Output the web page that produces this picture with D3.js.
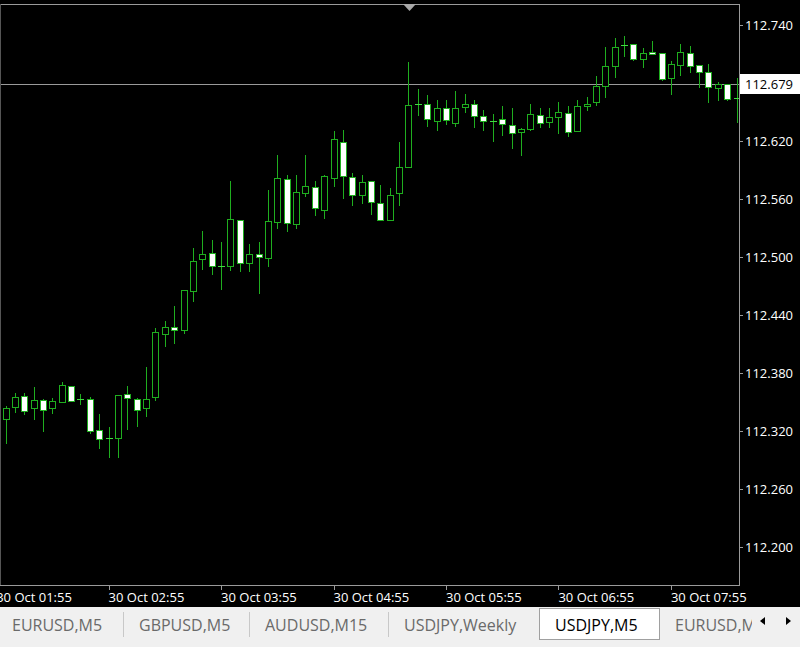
<!DOCTYPE html>
<html>
<head>
<meta charset="utf-8">
<script src="https://cdn.jsdelivr.net/npm/d3@7/dist/d3.min.js"></script>
<style>
  body { margin: 0; background: #000; }
  svg { display: block; }
</style>
</head>
<body>
<svg id="chart"></svg>
<script>
'use strict';

// USDJPY, M5 -- first visible bar is 30 Oct 02:00
var startTime = new Date(2017, 9, 30, 2, 0);
var barMinutes = 5;

var opens = [
  112.333, 112.345, 112.356, 112.344, 112.352, 112.344, 112.350, 112.367, 112.353, 112.353,
  112.321, 112.313, 112.313, 112.358, 112.353, 112.344, 112.355, 112.421, 112.428, 112.425,
  112.465, 112.498, 112.504, 112.491, 112.490, 112.538, 112.494, 112.503, 112.499, 112.536,
  112.581, 112.534, 112.566, 112.572, 112.549, 112.582, 112.619, 112.583, 112.565, 112.579,
  112.556, 112.538, 112.566, 112.593, 112.658, 112.658, 112.641, 112.654, 112.639, 112.655,
  112.658, 112.646, 112.641, 112.643, 112.637, 112.629, 112.633, 112.647, 112.640, 112.645,
  112.649, 112.630, 112.656, 112.660, 112.677, 112.697, 112.719, 112.720, 112.705, 112.712,
  112.711, 112.686, 112.699, 112.711, 112.699, 112.691, 112.675, 112.679, 112.664
];
var highs = [
  112.346, 112.359, 112.359, 112.366, 112.353, 112.354, 112.371, 112.367, 112.358, 112.355,
  112.338, 112.324, 112.357, 112.367, 112.354, 112.386, 112.427, 112.434, 112.449, 112.466,
  112.509, 112.527, 112.518, 112.515, 112.579, 112.538, 112.513, 112.515, 112.569, 112.605,
  112.585, 112.585, 112.605, 112.579, 112.585, 112.630, 112.631, 112.587, 112.585, 112.579,
  112.574, 112.571, 112.619, 112.702, 112.674, 112.668, 112.662, 112.662, 112.672, 112.669,
  112.662, 112.652, 112.648, 112.656, 112.654, 112.633, 112.658, 112.654, 112.654, 112.660,
  112.656, 112.662, 112.666, 112.687, 112.717, 112.727, 112.729, 112.720, 112.716, 112.723,
  112.711, 112.703, 112.720, 112.718, 112.699, 112.700, 112.681, 112.679, 112.685
];
var lows = [
  112.308, 112.340, 112.338, 112.332, 112.320, 112.339, 112.350, 112.352, 112.348, 112.318,
  112.302, 112.293, 112.293, 112.322, 112.325, 112.336, 112.352, 112.408, 112.411, 112.421,
  112.455, 112.488, 112.482, 112.467, 112.487, 112.486, 112.486, 112.463, 112.491, 112.530,
  112.527, 112.530, 112.563, 112.543, 112.540, 112.573, 112.561, 112.554, 112.556, 112.544,
  112.538, 112.538, 112.554, 112.593, 112.647, 112.636, 112.631, 112.638, 112.635, 112.650,
  112.634, 112.631, 112.620, 112.626, 112.613, 112.606, 112.631, 112.634, 112.634, 112.628,
  112.625, 112.630, 112.652, 112.657, 112.666, 112.686, 112.708, 112.704, 112.697, 112.710,
  112.683, 112.669, 112.688, 112.691, 112.676, 112.660, 112.662, 112.662, 112.640
];
var closes = [
  112.344, 112.355, 112.341, 112.352, 112.342, 112.351, 112.368, 112.352, 112.353, 112.320,
  112.312, 112.313, 112.357, 112.354, 112.342, 112.353, 112.422, 112.428, 112.425, 112.466,
  112.496, 112.503, 112.491, 112.491, 112.539, 112.494, 112.503, 112.500, 112.537, 112.582,
  112.535, 112.567, 112.573, 112.550, 112.584, 112.622, 112.584, 112.564, 112.578, 112.557,
  112.538, 112.564, 112.593, 112.657, 112.658, 112.643, 112.654, 112.642, 112.654, 112.658,
  112.646, 112.641, 112.641, 112.638, 112.629, 112.632, 112.648, 112.639, 112.645, 112.650,
  112.629, 112.656, 112.658, 112.677, 112.698, 112.717, 112.719, 112.704, 112.711, 112.710,
  112.684, 112.700, 112.712, 112.698, 112.692, 112.676, 112.679, 112.664, 112.664
];

var priceTicks = [112.200, 112.260, 112.320, 112.380, 112.440, 112.500, 112.560, 112.620, 112.680, 112.740];
var timeTickLabels = ['30 Oct 01:55', '30 Oct 02:55', '30 Oct 03:55', '30 Oct 04:55',
  '30 Oct 05:55', '30 Oct 06:55', '30 Oct 07:55'];
var bidPrice = 112.679;
var tabLabels = ['EURUSD,M5', 'GBPUSD,M5', 'AUDUSD,M15', 'USDJPY,Weekly', 'USDJPY,M5', 'EURUSD,M5'];
var activeTab = 'USDJPY,M5';

var W = 800, H = 647,
  plot = { left: 0, right: 739, top: 4, bottom: 585 },
  green = '#1fae1f',
  axisGray = '#9a9a9a',
  font = '"Open Sans", "Noto Sans", sans-serif';

var svg = d3.select('#chart')
  .attr('width', W)
  .attr('height', H)
  .style('background', '#000');

var bars = opens.map(function (o, i) {
  return {
    t: d3.timeMinute.offset(startTime, i * barMinutes),
    o: o, h: highs[i], l: lows[i], c: closes[i]
  };
});

// scales
var x = d3.scaleTime()
  .domain([bars[0].t, bars[bars.length - 1].t])
  .range([5.5, 736.5]);
var y = d3.scaleLinear()
  .domain([112.200, 112.740])
  .range([547, 25]);

var px = function (v) { return Math.round(v) + 0.5; };

// chart area
var chart = svg.append('g');
chart.append('defs').append('clipPath').attr('id', 'plotClip')
  .append('rect')
  .attr('x', plot.left).attr('y', plot.top)
  .attr('width', plot.right - plot.left).attr('height', plot.bottom - plot.top);

// bid line
chart.append('line')
  .attr('x1', plot.left).attr('x2', plot.right)
  .attr('y1', px(y(bidPrice))).attr('y2', px(y(bidPrice)))
  .attr('stroke', axisGray).attr('stroke-width', 1);

var candles = chart.append('g')
  .attr('clip-path', 'url(#plotClip)')
  .attr('shape-rendering', 'crispEdges');

// wicks
candles.selectAll('.wick')
  .data(bars)
  .enter().append('line')
  .attr('class', 'wick')
  .attr('x1', function (d) { return px(x(d.t)); })
  .attr('x2', function (d) { return px(x(d.t)); })
  .attr('y1', function (d) { return Math.round(y(d.h)); })
  .attr('y2', function (d) { return Math.round(y(d.l)) + 1; })
  .attr('stroke', green);

// bodies (bull = black with green frame, bear = white)
candles.selectAll('.body')
  .data(bars.filter(function (d) { return Math.abs(d.o - d.c) >= 0.0008; }))
  .enter().append('rect')
  .attr('class', 'body')
  .attr('x', function (d) { return Math.round(x(d.t)) - 3 + 0.5; })
  .attr('width', 6)
  .attr('y', function (d) { return px(y(Math.max(d.o, d.c))); })
  .attr('height', function (d) { return Math.max(1, Math.round(y(Math.min(d.o, d.c)) - y(Math.max(d.o, d.c)))); })
  .attr('fill', function (d) { return d.c > d.o ? '#000' : '#fff'; })
  .attr('stroke', green);

// doji
candles.selectAll('.doji')
  .data(bars.filter(function (d) { return Math.abs(d.o - d.c) < 0.0008; }))
  .enter().append('line')
  .attr('class', 'doji')
  .attr('x1', function (d) { return Math.round(x(d.t)) - 3; })
  .attr('x2', function (d) { return Math.round(x(d.t)) + 4; })
  .attr('y1', function (d) { return px(y((d.o + d.c) / 2)); })
  .attr('y2', function (d) { return px(y((d.o + d.c) / 2)); })
  .attr('stroke', '#3fdc3f');

// frame
chart.append('path')
  .attr('d', 'M0,' + (plot.top + 0.5) + 'H' + (plot.right + 0.5) + 'V' + (plot.bottom + 0.5) + 'H0')
  .attr('fill', 'none')
  .attr('stroke', axisGray)
  .attr('shape-rendering', 'crispEdges');
chart.append('line')
  .attr('x1', 0.5).attr('x2', 0.5).attr('y1', plot.top).attr('y2', plot.bottom)
  .attr('stroke', '#555');

// chart shift marker
chart.append('path')
  .attr('d', 'M403,4L416,4L409.5,11Z')
  .attr('fill', '#a8a8a8');

// price axis
var yAxis = svg.append('g');
priceTicks.forEach(function (p) {
  yAxis.append('line')
    .attr('x1', plot.right).attr('x2', plot.right + 4)
    .attr('y1', px(y(p))).attr('y2', px(y(p)))
    .attr('stroke', axisGray);
  yAxis.append('text')
    .attr('x', 745)
    .attr('y', y(p) + 5)
    .attr('fill', '#fff')
    .style('font-family', font)
    .style('font-size', '13px')
    .text(d3.format('.3f')(p));
});

// bid label
yAxis.append('rect')
  .attr('x', 740).attr('y', Math.round(y(bidPrice)) - 10)
  .attr('width', 60).attr('height', 20)
  .attr('fill', '#fff');
yAxis.append('text')
  .attr('x', 745)
  .attr('y', y(bidPrice) + 5)
  .attr('fill', '#000')
  .style('font-family', font)
  .style('font-size', '13px')
  .text(d3.format('.3f')(bidPrice));

// time axis
var parseTick = d3.timeParse('%Y %d %b %H:%M');
var xAxis = svg.append('g');
timeTickLabels.forEach(function (s) {
  var t = parseTick(startTime.getFullYear() + ' ' + s);
  var tx = x(t);
  xAxis.append('line')
    .attr('x1', px(tx)).attr('x2', px(tx))
    .attr('y1', plot.bottom).attr('y2', plot.bottom + 5)
    .attr('stroke', axisGray);
  xAxis.append('text')
    .attr('x', tx)
    .attr('y', 602)
    .attr('fill', '#fff')
    .style('font-family', font)
    .style('font-size', '13px')
    .text(s);
});

// symbol tabs
var tabBar = svg.append('g');
tabBar.append('rect')
  .attr('x', 0).attr('y', 607).attr('width', W).attr('height', H - 607)
  .attr('fill', '#f0f0f0');

var tabEdges = [0, 123, 249, 388, 539, 659, 800];
tabLabels.forEach(function (label, i) {
  var x0 = tabEdges[i], x1 = tabEdges[i + 1];
  var active = label === activeTab && i === tabLabels.indexOf(activeTab);
  if (active) {
    tabBar.append('rect')
      .attr('x', x0 + 0.5).attr('y', 608.5)
      .attr('width', x1 - x0).attr('height', 31)
      .attr('fill', '#fff')
      .attr('stroke', '#a0a0a0');
  } else if (i > 0 && tabEdges[i] !== 539 && tabEdges[i] !== 659) {
    tabBar.append('line')
      .attr('x1', x0 + 0.5).attr('x2', x0 + 0.5)
      .attr('y1', 612).attr('y2', 637)
      .attr('stroke', '#c8c8c8');
  }
  tabBar.append('text')
    .attr('x', x0 + (i === 0 ? 12 : 16))
    .attr('y', 631)
    .attr('fill', active ? '#000' : '#6a6a6a')
    .style('font-family', font)
    .style('font-size', '16px')
    .text(label);
});

// scroll arrows over the clipped last tab
tabBar.append('rect')
  .attr('x', 752).attr('y', 609).attr('width', 48).attr('height', 30)
  .attr('fill', '#f0f0f0');
tabBar.append('path').attr('d', 'M760,621L765,617L765,625Z').attr('fill', '#000');
tabBar.append('path').attr('d', 'M791,621L786,617L786,625Z').attr('fill', '#000');
</script>
</body>
</html>
